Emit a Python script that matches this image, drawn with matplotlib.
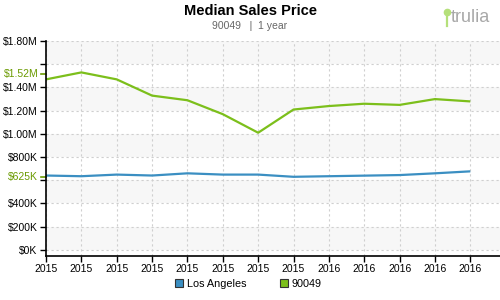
import matplotlib
matplotlib.use('Agg')
import matplotlib.pyplot as plt
from matplotlib.lines import Line2D

plt.rcParams['font.family'] = ['Liberation Sans', 'DejaVu Sans']

# 数据（单位：百万美元）
x_labels = ['2015'] * 8 + ['2016'] * 5
la_values = [0.641, 0.635, 0.649, 0.641, 0.660, 0.649, 0.649,
             0.630, 0.635, 0.640, 0.645, 0.660, 0.677]
zip_values = [1.47, 1.53, 1.47, 1.33, 1.29, 1.17, 1.01,
              1.21, 1.24, 1.26, 1.25, 1.30, 1.28]
y_ticks = [0, 0.2, 0.4, 0.6, 0.8, 1.0, 1.2, 1.4, 1.6, 1.8]
y_labels = ['$0K', '$200K', '$400K', '', '$800K', '$1.00M', '$1.20M',
            '$1.40M', '', '$1.80M']
mark_vals = [1.52, 0.625]
mark_labels = ['$1.52M', '$625K']

BLUE = '#3b8fc2'
GREEN = '#7cbf1b'
LABEL_GREEN = '#6a9a00'

fig = plt.figure(figsize=(5, 3), dpi=100)
ax = fig.add_axes([0.092, 0.147, 0.908, 0.716])

# 交替背景带
for i in range(len(y_ticks) - 1):
    if (len(y_ticks) - 2 - i) % 2 == 0:
        ax.axhspan(y_ticks[i], y_ticks[i + 1], color='#f7f7f7', zorder=0, lw=0)
ax.axhspan(-0.052, 0, color='white', zorder=0, lw=0)

xs = list(range(len(x_labels)))
ax.plot(xs, la_values, color=BLUE, lw=1.6, zorder=3, solid_capstyle='butt')
ax.plot(xs, zip_values, color=GREEN, lw=1.6, zorder=3, solid_capstyle='butt')

ax.set_xlim(0, 12.84)
ax.set_ylim(-0.052, 1.8)
ax.set_xticks(xs)
ax.set_xticklabels(x_labels, fontsize=7.5)
ax.set_yticks(y_ticks)
ax.set_yticklabels(y_labels, fontsize=7.5)
ax.tick_params(axis='both', length=4, width=1, color='black', pad=2)

ax.grid(True, color='#cfcfcf', linestyle=(0, (2, 2.5)), lw=0.8, zorder=1)
ax.set_axisbelow(True)

for s in ['top', 'right']:
    ax.spines[s].set_visible(False)
for s in ['left', 'bottom']:
    ax.spines[s].set_linewidth(1.2)
    ax.spines[s].set_zorder(4)

# 标注当前值
for v, lab in zip(mark_vals, mark_labels):
    ax.plot([-0.14, 0], [v, v], color=LABEL_GREEN, lw=1.2, clip_on=False)
    ax.text(-0.22, v, lab, color=LABEL_GREEN, fontsize=7.5,
            ha='right', va='center')

# 标题
fig.text(0.5, 0.962, 'Median Sales Price', ha='center', va='center',
         fontsize=10.5, fontweight='bold')
fig.text(0.5, 0.912, '90049   |  1 year', ha='center', va='center',
         fontsize=7.5, color='#666666')

# trulia 标志
fig.text(0.902, 0.94, 'trulia', ha='left', va='center', fontsize=13,
         color='#a8a8a8')
fig.add_artist(Line2D([0.893, 0.893], [0.915, 0.955], color='#b5e07a', lw=1.6))
fig.add_artist(Line2D([0.893], [0.96], marker='o', markersize=4.5,
                      color='#b5e07a'))

# 图例
handles = [Line2D([], [], marker='s', ls='', markersize=6,
                  markerfacecolor=BLUE, markeredgecolor='#333333', mew=0.8),
           Line2D([], [], marker='s', ls='', markersize=6,
                  markerfacecolor=GREEN, markeredgecolor='#333333', mew=0.8)]
fig.legend(handles, ['Los Angeles', '90049'], loc='center',
           bbox_to_anchor=(0.496, 0.053), ncol=2, frameon=False,
           fontsize=7.8, handletextpad=0.2, columnspacing=3.0,
           handlelength=1.0)

fig.savefig('out.png', dpi=100, facecolor='white')
